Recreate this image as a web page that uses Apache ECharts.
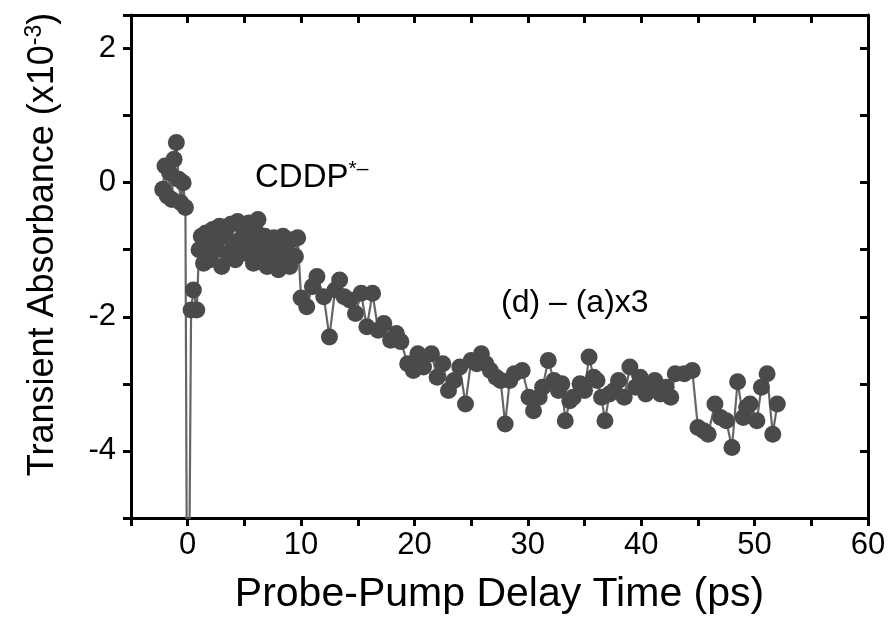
<!DOCTYPE html>
<html>
<head>
<meta charset="utf-8">
<script src="https://cdn.jsdelivr.net/npm/echarts@6/dist/echarts.min.js"></script>
<style>html,body{margin:0;padding:0;background:#fff}#c{width:891px;height:624px}</style>
</head>
<body>
<div id="c"></div>
<script>
// Delay time (ps)
var delayTimes = [-2.2,-2.0,-1.8,-1.6,-1.4,-1.2,-1.0,-0.8,-0.6,-0.4,-0.2,0.0,0.3,0.5,0.8,
  1.0,1.2,1.4,1.6,1.8,2.0,2.2,2.4,2.6,2.8,3.0,3.2,3.4,3.6,3.8,4.0,4.2,4.4,4.6,4.8,5.0,5.2,5.4,5.6,5.8,
  6.0,6.2,6.4,6.6,6.8,7.0,7.2,7.4,7.6,7.8,8.0,8.2,8.4,8.6,8.8,9.0,9.2,9.5,9.7,
  10.0,10.5,11.0,11.4,12.0,12.5,13.0,13.4,13.8,14.3,14.8,15.3,15.8,16.3,16.8,17.3,17.9,18.4,18.8,19.4,19.9,
  20.3,20.8,21.5,22.0,22.5,23.0,23.5,24.0,24.5,25.0,25.5,25.9,26.3,26.7,27.2,27.6,28.0,28.4,28.8,29.5,
  30.1,30.5,31.0,31.3,31.8,32.3,32.7,33.0,33.3,33.7,34.0,34.6,35.0,35.4,35.8,36.1,36.5,36.8,37.2,37.6,
  38.0,38.5,39.0,39.5,39.9,40.4,40.8,41.2,41.7,42.2,42.6,43.0,43.8,44.5,45.0,45.5,45.9,46.5,47.0,47.5,
  48.0,48.5,49.0,49.3,49.6,50.2,50.6,51.1,51.6,52.0];
// Transient absorbance (x10^-3)
var absorbance = [-0.1,0.25,-0.2,0.15,-0.25,0.35,0.6,0.05,-0.3,0.0,-0.37,-9,-1.9,-1.6,-1.9,
  -1.0,-0.8,-1.2,-0.75,-0.95,-1.15,-0.7,-0.9,-1.0,-0.65,-1.25,-0.8,-0.7,-1.05,-0.62,-0.9,-1.15,-0.58,-0.85,-0.65,-1.05,-0.75,-0.6,-0.95,-1.2,
  -0.72,-0.55,-0.9,-1.1,-0.8,-1.25,-0.95,-1.05,-0.82,-1.1,-1.3,-0.95,-0.8,-1.15,-1.05,-1.25,-0.85,-1.1,-0.82,
  -1.72,-1.85,-1.55,-1.4,-1.7,-2.3,-1.6,-1.45,-1.7,-1.75,-1.95,-1.65,-2.15,-1.65,-2.2,-2.1,-2.35,-2.25,-2.37,-2.7,-2.8,
  -2.55,-2.75,-2.55,-2.9,-2.7,-3.1,-2.95,-2.75,-3.3,-2.65,-2.7,-2.55,-2.7,-2.8,-2.9,-2.95,-3.6,-2.95,-2.85,-2.8,
  -3.2,-3.4,-3.2,-3.05,-2.65,-2.95,-3.1,-3.0,-3.55,-3.25,-3.2,-3.0,-3.1,-2.6,-2.9,-2.95,-3.2,-3.55,-3.15,-3.1,
  -2.95,-3.2,-2.75,-3.05,-2.9,-3.15,-3.05,-2.95,-3.15,-3.05,-3.2,-2.85,-2.85,-2.8,-3.65,-3.7,-3.75,-3.3,-3.5,-3.55,
  -3.95,-2.97,-3.5,-3.35,-3.3,-3.55,-3.05,-2.85,-3.75,-3.3];
var xTickLabels = [0,10,20,30,40,50,60];
var yTickLabels = [-4,-2,0,2];

var chart = echarts.init(document.getElementById('c'), null, {renderer:'canvas'});
var pts = delayTimes.map(function(t,i){return [t, absorbance[i]];});
var font = 'Liberation Sans, Arial, sans-serif';
function axisCommon(){ return {
  axisLine:{show:true,onZero:false,lineStyle:{color:'#000',width:3}},
  splitLine:{show:false}
};}
var option = {
  animation:false,
  backgroundColor:'#fff',
  grid:{left:131,right:23,top:15,bottom:106,containLabel:false,outerBoundsMode:'none'},
  xAxis:[
    Object.assign(axisCommon(),{type:'value',position:'bottom',min:-5,max:60,interval:5,
      axisTick:{show:true,inside:false,length:8,lineStyle:{color:'#000',width:3}},
      axisLabel:{show:true,margin:12,fontSize:31,color:'#000',fontFamily:font,
        formatter:function(v){return xTickLabels.indexOf(v)>=0?String(v):'';}},
      name:'Probe-Pump Delay Time (ps)',nameLocation:'middle',nameGap:56,
      nameTextStyle:{fontSize:41,color:'#000',fontFamily:font}}),
    Object.assign(axisCommon(),{type:'value',position:'top',min:-5,max:60,interval:5,
      axisTick:{show:true,inside:true,length:8,lineStyle:{color:'#000',width:3}},
      axisLabel:{show:false}})
  ],
  yAxis:[
    Object.assign(axisCommon(),{type:'value',position:'left',min:-5,max:2.5,interval:1,
      axisTick:{show:true,inside:false,length:8,lineStyle:{color:'#000',width:3}},
      axisLabel:{show:true,margin:15,fontSize:31,color:'#000',fontFamily:font,
        formatter:function(v){return yTickLabels.indexOf(v)>=0?String(v):'';}},
      name:'{a|Transient Absorbance (x10}{s|-3}{a|)}',nameLocation:'middle',nameGap:68,nameRotate:90,
      nameTextStyle:{fontSize:36,color:'#000',fontFamily:font,padding:[0,0,0,44],
        rich:{a:{fontSize:36,color:'#000',fontFamily:font,lineHeight:40},
              s:{fontSize:23,color:'#000',fontFamily:font,verticalAlign:'top',lineHeight:40}}}}),
    Object.assign(axisCommon(),{type:'value',position:'right',min:-5,max:2.5,interval:1,
      axisTick:{show:true,inside:true,length:8,lineStyle:{color:'#000',width:3}},
      axisLabel:{show:false}})
  ],
  series:[{
    type:'line',xAxisIndex:0,yAxisIndex:0,data:pts,clip:true,
    symbol:'circle',symbolSize:17,showAllSymbol:true,
    lineStyle:{color:'#666666',width:2.2},
    itemStyle:{color:'#4a4a4a'}
  }],
  graphic:[
    {type:'text',left:255,top:159,style:{text:'{a|CDDP}{b|*\u2013}',
      rich:{a:{fontSize:33,fill:'#000',fontFamily:font,lineHeight:37},
            b:{fontSize:21,fill:'#000',fontFamily:font,verticalAlign:'top',lineHeight:37}}}},
    {type:'text',left:501,top:287,style:{text:'(d) \u2013 (a)x3',fontSize:32,fill:'#000',fontFamily:font}}
  ]
};
chart.setOption(option);
</script>
</body>
</html>
